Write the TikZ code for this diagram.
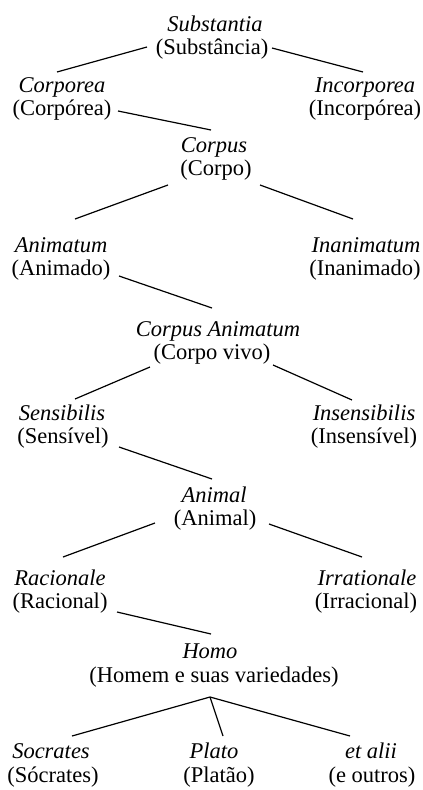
\documentclass[tikz,border=0pt]{standalone}
\usepackage{fontspec}
\setmainfont{Liberation Serif}
\begin{document}
\begin{tikzpicture}[x=1pt,y=-1pt,
  term/.style={anchor=base,inner sep=0pt,font=\fontsize{22.5}{24}\selectfont\itshape},
  gloss/.style={anchor=base,inner sep=0pt,font=\fontsize{22.5}{24}\selectfont},
  link/.style={line width=1.2pt}]
\useasboundingbox (0,0) rectangle (423,790);
% terms
\node[term]  (sub)     at (215,31)  {Substantia};
\node[gloss] (subg)    at (212,54)  {(Substância)};
\node[term]  (corp)    at (62,92)   {Corporea};
\node[gloss] (corpg)   at (62,115)  {(Corpórea)};
\node[term]  (incorp)  at (365,92)  {Incorporea};
\node[gloss] (incorpg) at (365,115) {(Incorpórea)};
\node[term]  (corpus)  at (214,152) {Corpus};
\node[gloss] (corpusg) at (216,175) {(Corpo)};
\node[term]  (anim)    at (61,252)  {Animatum};
\node[gloss] (animg)   at (61,275)  {(Animado)};
\node[term]  (inanim)  at (366,252) {Inanimatum};
\node[gloss] (inanimg) at (365,275) {(Inanimado)};
\node[term]  (ca)      at (218,336) {Corpus Animatum};
\node[gloss] (cag)     at (212,359) {(Corpo vivo)};
\node[term]  (sens)    at (62,420)  {Sensibilis};
\node[gloss] (sensg)   at (63,443)  {(Sensível)};
\node[term]  (insens)  at (364,420) {Insensibilis};
\node[gloss] (insensg) at (364,443) {(Insensível)};
\node[term]  (animal)  at (214,502) {Animal};
\node[gloss] (animalg) at (215,525) {(Animal)};
\node[term]  (rac)     at (60,585)  {Racionale};
\node[gloss] (racg)    at (60,608)  {(Racional)};
\node[term]  (irr)     at (367,585) {Irrationale};
\node[gloss] (irrg)    at (366,608) {(Irracional)};
\node[term]  (homo)    at (210,658) {Homo};
\node[gloss] (homog)   at (214,682) {(Homem e suas variedades)};
\node[term]  (socr)    at (51,758)  {Socrates};
\node[gloss] (socrg)   at (53,782)  {(Sócrates)};
\node[term]  (plato)   at (214,758) {Plato};
\node[gloss] (platog)  at (219,782) {(Platão)};
\node[term]  (etal)    at (371,758) {et alii};
\node[gloss] (etalg)   at (372,782) {(e outros)};
% connectors
\draw[link] ([shift={(-65,-7)}]subg.base) -- ([shift={(-5,-20)}]corp.base);
\draw[link] ([shift={(60,-6)}]subg.base) -- ([shift={(-2,-20)}]incorp.base);
\draw[link] ([shift={(56,-4)}]corpg.base) -- ([shift={(-3,-22)}]corpus.base);
\draw[link] ([shift={(-48,10)}]corpusg.base) -- ([shift={(14,-33)}]anim.base);
\draw[link] ([shift={(44,10)}]corpusg.base) -- ([shift={(-13,-33)}]inanim.base);
\draw[link] ([shift={(58,1)}]animg.base) -- ([shift={(-6,-28)}]ca.base);
\draw[link] ([shift={(-62,8)}]cag.base) -- ([shift={(13,-21)}]sens.base);
\draw[link] ([shift={(61,6)}]cag.base) -- ([shift={(-12,-20)}]insens.base);
\draw[link] ([shift={(56,4)}]sensg.base) -- ([shift={(-2,-23)}]animal.base);
\draw[link] ([shift={(-60,-2)}]animalg.base) -- ([shift={(3,-28)}]rac.base);
\draw[link] ([shift={(54,-1)}]animalg.base) -- ([shift={(-5,-28)}]irr.base);
\draw[link] ([shift={(57,4)}]racg.base) -- ([shift={(1,-24)}]homo.base);
\draw[link] ([shift={(-4,15)}]homog.base) -- ([shift={(21,-22)}]socr.base);
\draw[link] ([shift={(-4,15)}]homog.base) -- ([shift={(9,-22)}]plato.base);
\draw[link] ([shift={(-4,15)}]homog.base) -- ([shift={(-21,-22)}]etal.base);
\end{tikzpicture}
\end{document}
